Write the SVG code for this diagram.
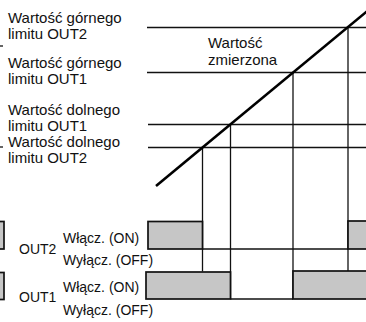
<svg xmlns="http://www.w3.org/2000/svg" width="366" height="322" viewBox="0 0 366 322">
<style>
text{font-family:"Liberation Sans",Arial,sans-serif;fill:#111}
.t{font-size:15px}
.b{font-size:14px}
.ln{stroke:#111;stroke-width:1.3;fill:none}
.sig{stroke:#111;stroke-width:1.7;fill:#c6c6c6}
.meas{stroke:#000;stroke-width:2.6;fill:none}
</style>
<rect width="366" height="322" fill="#fff"/>
<g id="levels">
<line class="ln" x1="147" y1="27.5" x2="366" y2="27.5"/>
<line class="ln" x1="147" y1="72.5" x2="366" y2="72.5"/>
<line class="ln" x1="148" y1="124.5" x2="366" y2="124.5"/>
<line class="ln" x1="148" y1="147.5" x2="366" y2="147.5"/>
<line class="ln" x1="0" y1="46" x2="3" y2="46"/>
<line class="ln" x1="0" y1="147" x2="3" y2="147"/>
</g>
<g id="label-upper2"><text class="t" x="8" y="23">Wartość górnego</text><text class="t" x="8" y="39">limitu OUT2</text></g>
<g id="label-upper1"><text class="t" x="8" y="68">Wartość górnego</text><text class="t" x="8" y="84">limitu OUT1</text></g>
<g id="label-lower1"><text class="t" x="8" y="115">Wartość dolnego</text><text class="t" x="8" y="131">limitu OUT1</text></g>
<g id="label-lower2"><text class="t" x="8" y="147">Wartość dolnego</text><text class="t" x="8" y="163">limitu OUT2</text></g>
<g id="label-measured"><text class="t" x="208" y="48">Wartość</text><text class="t" x="208" y="65">zmierzona</text></g>
<g id="connectors">
<line class="ln" x1="202.5" y1="147.5" x2="202.5" y2="271.5"/>
<line class="ln" x1="230.5" y1="124.5" x2="230.5" y2="299"/>
<line class="ln" x1="293" y1="72.5" x2="293" y2="299"/>
<line class="ln" x1="348" y1="27.5" x2="348" y2="271"/>
</g>
<g id="measured-line"><line class="meas" x1="156" y1="186" x2="368" y2="10.5"/></g>
<g id="out2-signal">
<rect class="sig" x="-2" y="221.5" width="6" height="27.5"/>
<rect class="sig" x="148" y="221.5" width="54.5" height="27.5"/>
<line class="ln" x1="202.5" y1="249" x2="348" y2="249"/>
<rect class="sig" x="348" y="221" width="20" height="28"/>
</g>
<g id="out1-signal">
<rect class="sig" x="-2" y="272.5" width="6" height="27"/>
<rect class="sig" x="146" y="272" width="84.5" height="27"/>
<line class="ln" x1="230.5" y1="299" x2="293" y2="299"/>
<rect class="sig" x="293" y="271" width="75" height="28"/>
</g>
<g id="label-out2"><text class="b" x="63" y="243">Włącz. (ON)</text><text class="b" x="19" y="254">OUT2</text><text class="b" x="63" y="265">Wyłącz. (OFF)</text></g>
<g id="label-out1"><text class="b" x="63" y="292">Włącz. (ON)</text><text class="b" x="19" y="302">OUT1</text><text class="b" x="63" y="315">Wyłącz. (OFF)</text></g>
</svg>
